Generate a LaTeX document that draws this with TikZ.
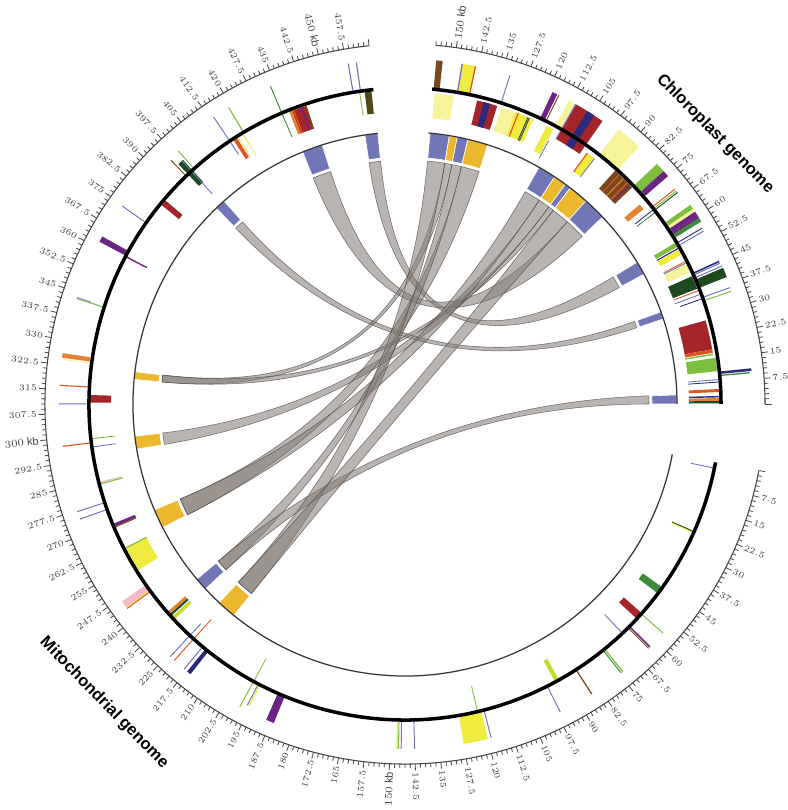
\documentclass[tikz,border=0pt]{standalone}
\usepackage{fontspec}
\setmainfont{Liberation Sans}
\usetikzlibrary{calc}
\definecolor{linkblue}{HTML}{7176B6}
\definecolor{linkgold}{HTML}{EBB82E}
\definecolor{ribbon}  {HTML}{837A74}
\definecolor{ribedge} {HTML}{4A4542}
\definecolor{tickgray}{HTML}{454545}
\definecolor{dred}    {HTML}{A3252A}
\definecolor{navy}    {HTML}{2B2A7C}
\definecolor{lblue}   {HTML}{6C70C0}
\definecolor{pyellow} {HTML}{F6F39B}
\definecolor{gyellow} {HTML}{EFEC3F}
\definecolor{mpurple} {HTML}{6C2484}
\definecolor{gbrown}  {HTML}{7A4A1E}
\definecolor{gorange} {HTML}{E3822F}
\definecolor{ored}    {HTML}{E2541F}
\definecolor{lgreen}  {HTML}{7DBE3F}
\definecolor{dgreen}  {HTML}{1F4A20}
\definecolor{mgreen}  {HTML}{3D8B3B}
\definecolor{lime}    {HTML}{C6DA2F}
\definecolor{pink}    {HTML}{F2BAC3}
\definecolor{olive}   {HTML}{4E4A18}
% kb -> angle on the two ideograms
\pgfmathdeclarefunction{mt}{1}{\pgfmathparse{-10.65-0.5454*#1}}
\pgfmathdeclarefunction{ct}{1}{\pgfmathparse{0.5454*#1}}

\begin{document}
\begin{tikzpicture}[x=0.02cm,y=0.02cm,
    scaletick/.style={tickgray, line width=0.45pt},
    scaleline/.style={tickgray, line width=0.6pt},
    ticklabel/.style={font=\fontsize{4.6}{5.2}\selectfont, text=tickgray, inner sep=0.6pt},
    biglabel/.style={font=\fontsize{6.2}{7}\selectfont, text=tickgray, inner sep=0.6pt},
    ribbonband/.style={fill=ribbon, fill opacity=0.55, draw=ribedge, draw opacity=0.75, line width=0.3pt},
    linkblock/.style={draw=white, line width=0.35pt},
    innerring/.style={draw=black!80, line width=0.7pt},
    ideogram/.style={draw=black, line width=2pt},
    gtitle/.style={font=\bfseries\fontsize{9.4}{11}\selectfont}]
  \fill[white] (-405,-406) rectangle (382,404);
  \useasboundingbox (-405,-406) rectangle (382,404);

  % ribbons: chloroplast q1/q2, mitochondrial p1/p2
  \foreach \qa/\qb/\pa/\pb in {52.3/57.6/460/465, 79.6/88.6/435/443, 33.4/36.3/395/399,
      144.7/147.8/320/323, 96.4/98.8/320/323, 98.8/103.8/293/298,
      132.6/140.5/261/268.5, 103.8/110.9/261/268.5, 140.5/144.7/232/237,
      0/3.5/232/237, 147.8/155.3/217/224.5, 88.6/96.4/217/224.5}{
    \pgfmathsetmacro\ba{ct(\qa)}
    \pgfmathsetmacro\bb{ct(\qb)}
    \pgfmathsetmacro\aa{mt(\pb)}
    \pgfmathsetmacro\ab{mt(\pa)}
    \filldraw[ribbonband] (\ba:244) arc[start angle=\ba, end angle=\bb, radius=244]
      .. controls (\bb:81) and (\aa:81) .. (\aa:244)
      arc[start angle=\aa, end angle=\ab, radius=244]
      .. controls (\ab:81) and (\ba:81) .. (\ba:244) -- cycle;
  }

  % link ends
  \foreach \pa/\pb/\col in {460/465/linkblue, 435/443/linkblue, 395/399/linkblue,
      320/323/linkgold, 293/298/linkgold, 261/268.5/linkgold, 232/237/linkblue, 217/224.5/linkgold}{
    \pgfmathsetmacro\ta{mt(\pa)}
    \pgfmathsetmacro\tb{mt(\pb)}
    \filldraw[linkblock, fill=\col] (\ta:247) arc[start angle=\ta, end angle=\tb, radius=247]
      -- (\tb:272) arc[start angle=\tb, end angle=\ta, radius=272] -- cycle;
  }
  \foreach \qa/\qb/\col in {147.8/155.3/linkblue, 144.7/147.8/linkgold, 140.5/144.7/linkblue,
      132.6/140.5/linkgold, 103.8/110.9/linkblue, 98.8/103.8/linkgold, 96.4/98.8/linkblue,
      88.6/96.4/linkgold, 79.6/88.6/linkblue, 52.3/57.6/linkblue, 33.4/36.3/linkblue, 0/3.5/linkblue}{
    \pgfmathsetmacro\ta{ct(\qa)}
    \pgfmathsetmacro\tb{ct(\qb)}
    \filldraw[linkblock, fill=\col] (\ta:247) arc[start angle=\ta, end angle=\tb, radius=247]
      -- (\tb:272) arc[start angle=\tb, end angle=\ta, radius=272] -- cycle;
  }
  \draw[innerring] (-10.65:272) arc[start angle=-10.65, end angle=-264.26, radius=272];
  \draw[innerring] (0:272) arc[start angle=0, end angle=85.08, radius=272];

  % chloroplast genes
  \foreach \qa/\qb/\ri/\ro/\col in {153.5/155.5/316/345/gbrown, 148.5/155/287/312/pyellow,
      143.5/147.5/316/345/gyellow, 147.3/147.7/316/345/lblue, 143.2/143.6/316/345/ored,
      133.5/140.5/287/312/dred, 136/138.2/287/312/navy, 132.4/132.7/316/345/lblue,
      127/132/287/312/pyellow, 120.5/127/287/312/gyellow, 125.8/126.2/287/312/ored,
      122.3/122.6/287/312/dgreen, 121.8/122.1/287/312/navy, 117/118.6/316/345/mpurple,
      116.3/116.6/316/345/gbrown, 113/115.5/284/312/gyellow, 112.4/112.7/280/300/lblue,
      111/113/316/345/pyellow, 101/110.5/305/345/dred, 104/106.5/305/345/navy,
      110.5/110.8/305/345/lblue, 96/99/287/310/gyellow, 98.8/99.2/287/310/ored,
      95.8/96.1/287/310/lblue, 87.5/95.5/318/348/pyellow, 80/88/290/314/gbrown,
      82/82.4/290/314/ored, 84/84.4/290/314/gorange, 86/86.3/290/314/ored,
      81/81.3/290/314/mpurple, 77/80/318/348/lgreen, 75/77/318/348/mpurple,
      72/74/288/308/gorange, 70.5/70.8/316/345/ored, 69.8/70.1/316/345/lgreen,
      69.2/69.5/316/345/dgreen, 69.6/69.9/292/316/navy, 68.5/68.8/292/316/mgreen,
      62.5/64/318/348/lgreen, 61.5/62.5/318/348/pyellow, 60/61.5/318/348/mpurple,
      59.2/60/318/348/mpurple, 58/59.2/318/348/mgreen, 56/56.3/316/345/navy,
      55/55.3/316/345/lblue, 55/56.5/290/314/lgreen, 54.2/54.6/290/314/navy,
      52/54/290/314/gyellow, 49.2/49.5/290/314/ored, 48.7/49/290/314/lblue,
      45.5/48.5/290/314/pyellow, 44.5/45/316/345/navy, 44/44.3/316/345/lblue,
      39.5/44/288/314/dgreen, 39.5/42.5/316/346/dgreen, 43/43.3/316/346/lblue,
      38.6/38.9/288/314/ored, 37.2/37.5/288/314/lblue, 35.6/35.9/292/316/navy,
      34.8/35.1/316/345/lgreen, 36/36.3/316/345/lblue, 18.5/28.5/284/312/dred,
      17.3/18.5/284/312/ored, 16.5/17/284/312/lgreen, 11/15.5/284/314/lgreen,
      10/10.8/316/348/navy, 9.3/9.7/316/346/mgreen, 8/8.3/284/314/lblue,
      7.2/7.5/284/314/navy, 4/5/284/316/ored, 2.2/2.7/284/316/navy,
      1/2/284/316/gorange, 0.2/1/284/316/dgreen}{
    \pgfmathsetmacro\ta{ct(\qa)}
    \pgfmathsetmacro\tb{ct(\qb)}
    \fill[\col] (\ta:\ri) arc[start angle=\ta, end angle=\tb, radius=\ri]
      -- (\tb:\ro) arc[start angle=\tb, end angle=\ta, radius=\ro] -- cycle;
  }

  % mitochondrial genes
  \foreach \pa/\pb/\ri/\ro/\col in {458/458.35/318/345/lblue, 460.5/460.85/318/345/lblue,
      460.2/460.5/292/316/lgreen, 462/464.3/292/316/olive, 436/442/290/314/dred,
      436/437/290/314/gorange, 437.3/437.7/290/314/ored, 440/440.5/290/314/mpurple,
      441.5/442/290/314/gbrown, 433.3/433.6/290/345/mgreen, 419/419.35/318/345/lgreen,
      418.6/418.9/290/314/gyellow, 413.6/413.9/300/345/lblue, 415/416.3/292/314/ored,
      416.6/416.9/292/314/gyellow, 396/398/300/330/dgreen, 398.6/398.9/318/340/lgreen,
      395/395.3/318/338/gbrown, 397.4/397.7/285/330/lblue, 382.5/384.5/292/314/dred,
      374.5/374.8/318/345/lblue, 361.8/363.6/316/346/mpurple, 361.3/361.8/292/316/mpurple,
      343/343.35/316/345/lgreen, 343.4/343.6/330/345/lblue, 324.6/326/318/346/gorange,
      324/324.3/318/345/pyellow, 316/316.35/318/346/ored, 311/313.5/294/316/dred,
      310.4/310.7/316/346/lblue, 297.4/297.75/316/345/ored, 298.8/299.1/292/316/lgreen,
      296/296.3/292/316/lblue, 283.9/284.3/292/316/pink, 283.4/283.8/292/316/lgreen,
      277/277.3/316/345/lblue, 274.6/274.9/316/345/lblue, 268.6/269.6/292/316/mpurple,
      268.2/268.6/292/316/gbrown, 252/260.6/291/314/gyellow, 260.3/260.7/291/314/lgreen,
      244.3/246.5/316/345/pink, 244/244.3/316/345/gyellow, 243.7/244/316/345/ored,
      234/235/292/316/gorange, 233.2/233.9/292/316/dgreen, 231.6/232.8/292/316/lime,
      222.3/222.6/290/345/ored, 224/224.3/300/345/lblue, 216/217.3/316/345/navy,
      218.3/218.6/316/345/lblue, 197.8/198.1/290/345/lgreen, 196/196.3/316/340/lblue,
      195.4/195.8/316/340/gyellow, 186.5/189/316/345/mpurple, 147.3/147.65/316/345/lgreen,
      147.7/148.1/316/345/gyellow, 146.5/146.8/316/345/lblue, 142.4/142.7/316/345/lblue,
      121/121.3/290/316/lgreen, 120/127.5/316/345/gyellow, 118.8/119.1/316/345/lblue,
      96.3/96.6/316/345/lblue, 92/93.5/292/316/lime, 85.2/85.6/316/345/gbrown,
      73.5/73.9/316/345/lgreen, 74.2/74.5/316/345/mgreen, 65.6/65.9/290/316/lblue,
      62.3/62.8/316/345/mpurple, 63/63.3/316/345/gbrown, 56.6/56.9/316/345/lgreen,
      56.5/59/292/316/dred, 45.5/48/292/316/mgreen, 24/24.4/292/316/dgreen,
      24.4/24.7/292/316/gyellow, 1.8/2.1/292/316/lblue}{
    \pgfmathsetmacro\ta{mt(\pa)}
    \pgfmathsetmacro\tb{mt(\pb)}
    \fill[\col] (\ta:\ri) arc[start angle=\ta, end angle=\tb, radius=\ri]
      -- (\tb:\ro) arc[start angle=\tb, end angle=\ta, radius=\ro] -- cycle;
  }

  % ideograms
  \draw[ideogram] (-10.65:316) arc[start angle=-10.65, end angle=-264.26, radius=316];
  \draw[ideogram] (0:316) arc[start angle=0, end angle=85.08, radius=316];

  % scales
  \draw[scaleline] (-10.65:360) arc[start angle=-10.65, end angle=-264.26, radius=360];
  \draw[scaleline] (0:360) arc[start angle=0, end angle=85.08, radius=360];
  \foreach \k in {0,...,310}{
    \pgfmathsetmacro\t{mt(1.5*\k)}
    \pgfmathtruncatemacro\m{mod(\k,5)}
    \ifnum\m=0 \draw[scaletick] (\t:360) -- (\t:366.5);
    \else \draw[scaletick] (\t:360) -- (\t:364); \fi
  }
  \foreach \k in {0,...,104}{
    \pgfmathsetmacro\t{ct(1.5*\k)}
    \pgfmathtruncatemacro\m{mod(\k,5)}
    \ifnum\m=0 \draw[scaletick] (\t:360) -- (\t:366.5);
    \else \draw[scaletick] (\t:360) -- (\t:364); \fi
  }
  \foreach \k in {1,...,61}{
    \pgfmathsetmacro\v{7.5*\k}
    \pgfmathsetmacro\t{mt(\v)}
    \pgfmathtruncatemacro\rside{cos(\t)>0}
    \pgfmathsetmacro\rot{\rside==1 ? \t : \t+180}
    \ifnum\rside=1 \def\anc{west}\else\def\anc{east}\fi
    \pgfmathtruncatemacro\big{mod(\k,20)==0}
    \ifnum\big=1
      \node[biglabel, rotate=\rot, anchor=\anc] (ml\k) at (\t:367) {\pgfmathprintnumber{\v} kb};
    \else
      \node[ticklabel, rotate=\rot, anchor=\anc] (ml\k) at (\t:367) {\pgfmathprintnumber{\v}};
    \fi
  }
  \foreach \k in {1,...,20}{
    \pgfmathsetmacro\v{7.5*\k}
    \pgfmathsetmacro\t{ct(\v)}
    \pgfmathtruncatemacro\big{mod(\k,20)==0}
    \ifnum\big=1
      \node[biglabel, rotate=\t, anchor=west] (cl\k) at (\t:367) {\pgfmathprintnumber{\v} kb};
    \else
      \node[ticklabel, rotate=\t, anchor=west] (cl\k) at (\t:367) {\pgfmathprintnumber{\v}};
    \fi
  }

  \node[gtitle, rotate=-45.5] (cptitle) at (310,270) {Chloroplast genome};
  \node[gtitle, rotate=-45.7] (mttitle) at (-301,-299) {Mitochondrial genome};
\end{tikzpicture}
\end{document}
